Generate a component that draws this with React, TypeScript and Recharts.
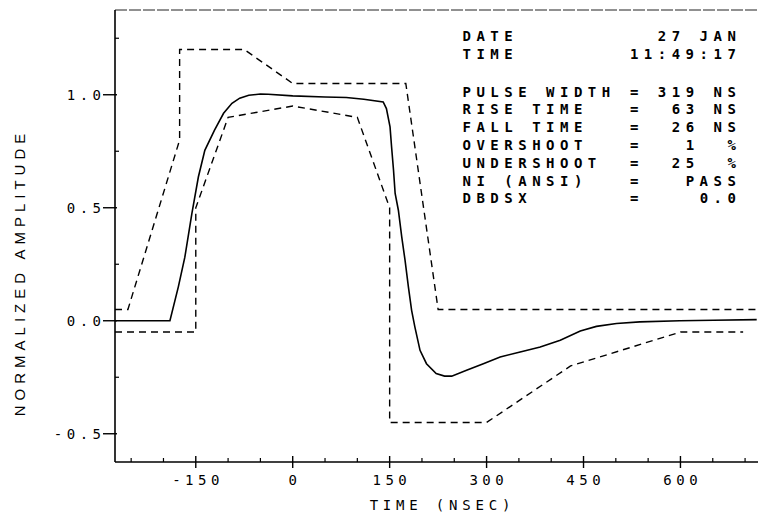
import React from 'react';
import { ComposedChart, Line, XAxis, YAxis, ReferenceLine } from 'recharts';

// ---- data ----
const pulseTime = [-275, -190, -177, -167, -156, -146, -136, -121, -107, -94, -82, -68, -50, -38, 0, 50, 83, 110, 140, 145, 150.6, 153, 156, 158.5, 163.5, 168.7, 173.8, 179, 184, 189, 197, 207, 222, 235, 246, 269, 295, 321, 352, 383, 414, 445, 470, 501, 537, 599, 651, 718];
const pulseAmp = [0, 0, 0.15, 0.28, 0.475, 0.636, 0.754, 0.843, 0.918, 0.962, 0.985, 0.998, 1.003, 1.002, 0.995, 0.99, 0.988, 0.98, 0.968, 0.939, 0.858, 0.769, 0.666, 0.563, 0.489, 0.371, 0.268, 0.15, 0.046, -0.027, -0.131, -0.19, -0.234, -0.245, -0.245, -0.219, -0.19, -0.16, -0.138, -0.116, -0.086, -0.045, -0.025, -0.012, -0.005, 0, 0.002, 0.005];

const upperTime = [-275, -255, -175, -175, -75, 0, 175, 225, 720];
const upperAmp = [0.05, 0.05, 0.8, 1.2, 1.2, 1.05, 1.05, 0.05, 0.05];

const lowerTime = [-275, -150, -150, -100, 0, 100, 150, 150, 300, 430, 600, 697];
const lowerAmp = [-0.05, -0.05, 0.5, 0.9, 0.95, 0.9, 0.5, -0.45, -0.45, -0.2, -0.05, -0.05];

const xTicks = [-250, -200, -150, -100, -50, 0, 50, 100, 150, 200, 250, 300, 350, 400, 450, 500, 550, 600, 650, 700];
const xMajor = [-150, 0, 150, 300, 450, 600];
const xTickLabels = ['-150', '0', '150', '300', '450', '600'];

const yTicks = [-0.5, -0.25, 0, 0.25, 0.5, 0.75, 1.0, 1.25];
const yMajor = [-0.5, 0, 0.5, 1.0];
const yTickLabels = ['-0.5', '0.0', '0.5', '1.0'];

const panelLabels = ['DATE', 'TIME', 'PULSE WIDTH', 'RISE TIME', 'FALL TIME', 'OVERSHOOT', 'UNDERSHOOT', 'NI (ANSI)', 'DBDSX'];
const panelValues = ['27 JAN', '11:49:17', '319', '63', '26', '1', '25', 'PASS', '0.0'];
const panelUnits = ['', '', 'NS', 'NS', 'NS', '%', '%', '', ''];

const pulseData = pulseTime.map((t, i) => ({ t, v: pulseAmp[i] }));
const upperData = upperTime.map((t, i) => ({ t, v: upperAmp[i] }));
const lowerData = lowerTime.map((t, i) => ({ t, v: lowerAmp[i] }));

const MONO = '"DejaVu Sans Mono", monospace';
const TICK_LS = 4.5;

const YTick = (props: any) => {
  const { x, y, payload } = props;
  const v = payload.value;
  const idx = yMajor.indexOf(v);
  if (idx >= 0) {
    return (
      <g>
        <line x1={x - 12} x2={x + 2} y1={y} y2={y} stroke="#000" strokeWidth={1.4} />
        <text x={x - 14 + TICK_LS} y={y + 5} textAnchor="end" fontFamily={MONO} fontSize={14} letterSpacing={TICK_LS} fill="#000">
          {yTickLabels[idx]}
        </text>
      </g>
    );
  }
  return <line x1={x} x2={x + 4} y1={y} y2={y} stroke="#000" strokeWidth={1.2} />;
};

const XTick = (props: any) => {
  const { x, y, payload } = props;
  const v = payload.value;
  const idx = xMajor.indexOf(v);
  if (idx >= 0) {
    return (
      <g>
        <line x1={x} x2={x} y1={y - 6} y2={y + 6} stroke="#000" strokeWidth={1.4} />
        <text x={x + TICK_LS / 2} y={y + 23} textAnchor="middle" fontFamily={MONO} fontSize={14} letterSpacing={TICK_LS} fill="#000">
          {xTickLabels[idx]}
        </text>
      </g>
    );
  }
  return <line x1={x} x2={x} y1={y} y2={y - 4} stroke="#000" strokeWidth={1.2} />;
};

const COL0 = 462.5;
const PITCH = 13.95;
const colX = (c: number) => COL0 + PITCH * c;
const rowY = [36, 54, 91.5, 109.3, 127.1, 144.9, 162.7, 180.5, 198.3];

const Panel = () => (
  <g fontFamily={MONO} fontSize={14} fontWeight="bold" letterSpacing={5.5} fill="#000">
    {panelLabels.map((lab, i) => {
      const base = rowY[i] + 5;
      const unit = panelUnits[i];
      const val = panelValues[i];
      const hasEq = i >= 2;
      const valEnd = unit ? 16 : 19;
      const valStart = valEnd - val.length + 1;
      return (
        <g key={lab}>
          <text x={colX(0)} y={base}>{lab}</text>
          {hasEq && <text x={colX(12)} y={base}>=</text>}
          <text x={colX(valStart)} y={base} style={{ whiteSpace: 'pre' }}>{val}</text>
          {unit && <text x={colX(19 - unit.length + 1)} y={base}>{unit}</text>}
        </g>
      );
    })}
  </g>
);

export default function App() {
  return (
    <div style={{ position: 'absolute', left: 0, top: 0, width: 760, height: 519, background: '#fff' }}>
      <ComposedChart width={760} height={519} margin={{ top: 10, right: 2, bottom: 27, left: 15 }}>
        <XAxis
          dataKey="t"
          type="number"
          domain={[-275, 720]}
          allowDataOverflow
          ticks={xTicks}
          interval={0}
          tick={<XTick />}
          tickLine={false}
          tickSize={0}
          tickMargin={0}
          height={30}
          axisLine={{ stroke: '#000', strokeWidth: 1.3 }}
        />
        <YAxis
          type="number"
          domain={[-0.625, 1.375]}
          allowDataOverflow
          ticks={yTicks}
          interval={0}
          tick={<YTick />}
          tickLine={false}
          tickSize={0}
          tickMargin={0}
          width={100}
          axisLine={{ stroke: '#000', strokeWidth: 1.6 }}
        />
        <ReferenceLine y={1.375} stroke="#222" strokeWidth={1} strokeDasharray="12 2" ifOverflow="visible" />
        <Line data={upperData} dataKey="v" type="linear" stroke="#000" strokeWidth={1.4} strokeDasharray="7 5" dot={false} isAnimationActive={false} />
        <Line data={lowerData} dataKey="v" type="linear" stroke="#000" strokeWidth={1.4} strokeDasharray="7 5" dot={false} isAnimationActive={false} />
        <Line data={pulseData} dataKey="v" type="linear" stroke="#000" strokeWidth={1.6} dot={false} isAnimationActive={false} />
      </ComposedChart>
      <svg width={760} height={519} style={{ position: 'absolute', left: 0, top: 0, pointerEvents: 'none' }}>
        <Panel />
        <text x={440 + 2.4} y={510} textAnchor="middle" fontFamily={MONO} fontSize={14} letterSpacing={4.8} fill="#000" style={{ whiteSpace: 'pre' }}>
          TIME (NSEC)
        </text>
        <text
          transform="translate(25,275) rotate(-90)"
          x={2.5}
          y={0}
          textAnchor="middle"
          fontFamily='"Liberation Sans", Arial, sans-serif'
          fontSize={15}
          letterSpacing={5}
          fill="#000"
          style={{ whiteSpace: 'pre' }}
        >
          NORMALIZED AMPLITUDE
        </text>
      </svg>
    </div>
  );
}
